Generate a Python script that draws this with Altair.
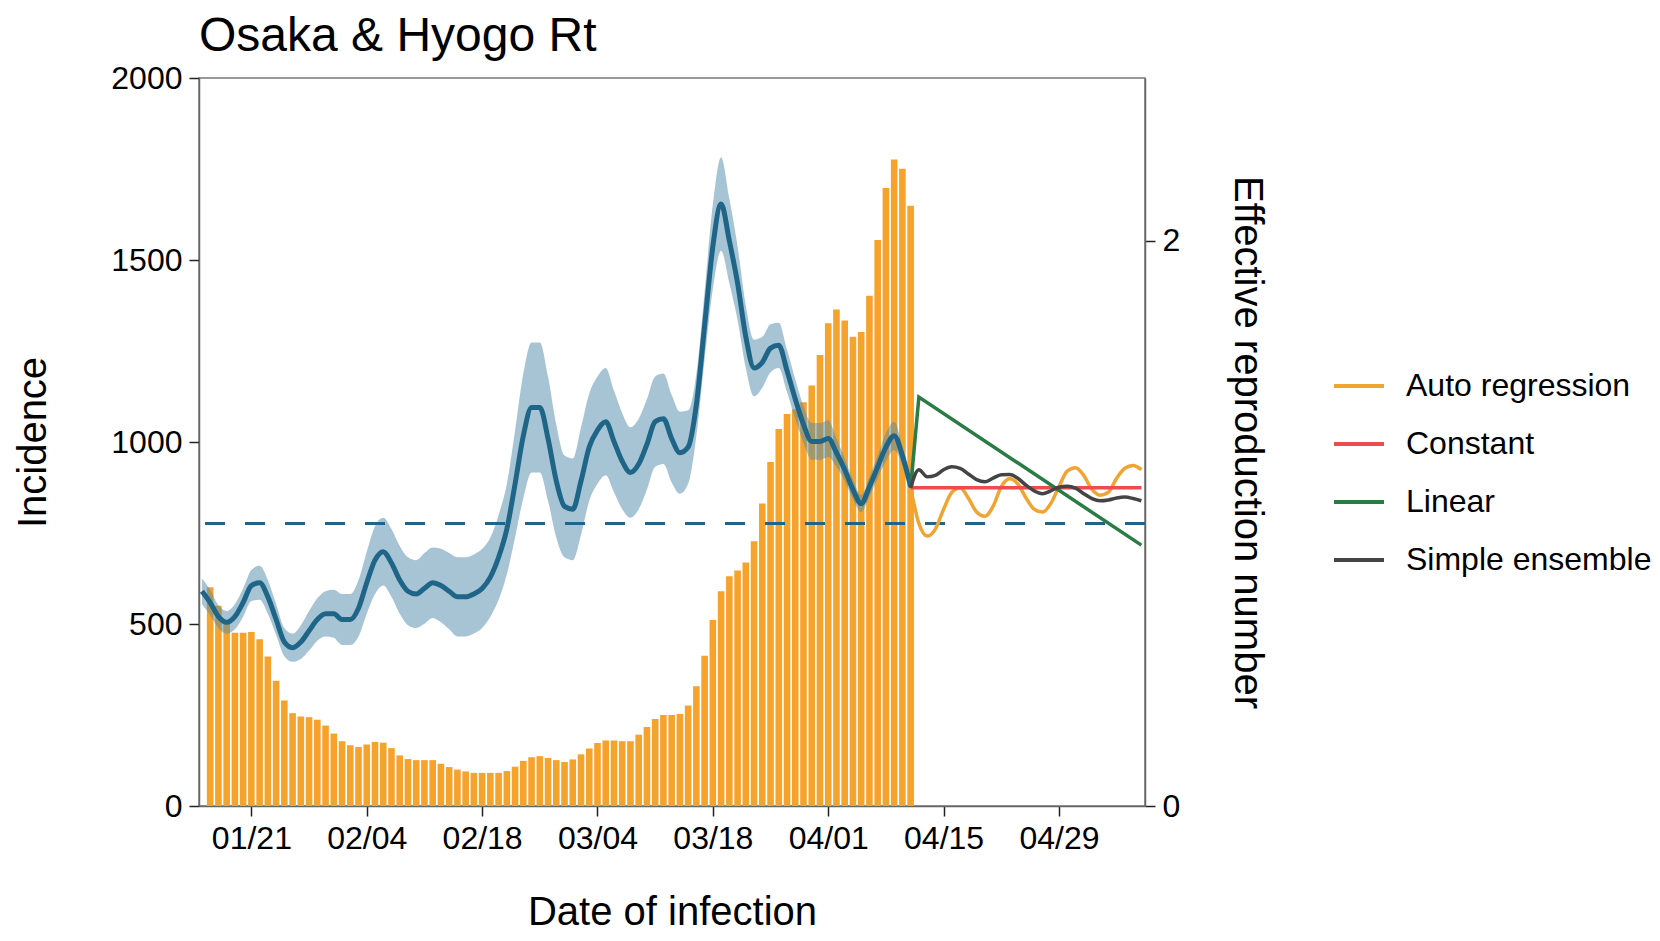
import altair as alt
import pandas as pd

FONT = "Liberation Sans"

# ---------------- data ----------------
chart_title = ["Osaka & Hyogo Rt"]

bar_start, bar_end = "2021-01-16", "2021-04-11"
incidence = [601, 550, 505, 476, 476, 478, 458, 411, 344, 290,
             255, 246, 244, 237, 221, 199, 178, 167, 162, 169,
             176, 174, 159, 139, 129, 126, 126, 126, 116, 107,
             100, 95, 91, 91, 91, 91, 96, 108, 124, 134,
             137, 132, 126, 121, 128, 142, 158, 173, 180, 180,
             178, 178, 196, 217, 239, 250, 250, 253, 276, 329,
             413, 511, 590, 631, 647, 669, 727, 831, 945, 1036,
             1077, 1090, 1109, 1155, 1239, 1326, 1364, 1334, 1289, 1302,
             1402, 1555, 1698, 1776, 1751, 1649]

rt_start, rt_end = "2021-01-15", "2021-04-11"
rt_median = [0.76, 0.72, 0.67, 0.65, 0.67, 0.72, 0.78, 0.79, 0.74, 0.66,
             0.58, 0.56, 0.58, 0.62, 0.66, 0.68, 0.68, 0.66, 0.66, 0.70,
             0.79, 0.87, 0.90, 0.86, 0.80, 0.76, 0.75, 0.77, 0.79, 0.78,
             0.76, 0.74, 0.74, 0.75, 0.77, 0.81, 0.88, 0.98, 1.14, 1.31,
             1.41, 1.41, 1.30, 1.15, 1.06, 1.05, 1.15, 1.27, 1.33, 1.36,
             1.29, 1.22, 1.18, 1.21, 1.28, 1.36, 1.37, 1.30, 1.25, 1.27,
             1.42, 1.70, 1.98, 2.13, 2.00, 1.85, 1.66, 1.55, 1.57, 1.62,
             1.63, 1.54, 1.44, 1.35, 1.29, 1.29, 1.30, 1.25, 1.19, 1.12,
             1.07, 1.13, 1.20, 1.27, 1.31, 1.24, 1.13]
rt_lower = [0.715, 0.675, 0.63, 0.61, 0.625, 0.67, 0.725, 0.73, 0.68, 0.605,
            0.53, 0.51, 0.52, 0.55, 0.585, 0.60, 0.595, 0.57, 0.57, 0.60,
            0.68, 0.75, 0.78, 0.74, 0.68, 0.64, 0.63, 0.645, 0.665, 0.65,
            0.625, 0.60, 0.60, 0.61, 0.63, 0.67, 0.73, 0.82, 0.95, 1.09,
            1.18, 1.18, 1.08, 0.95, 0.88, 0.87, 0.96, 1.08, 1.14, 1.17,
            1.11, 1.05, 1.02, 1.05, 1.12, 1.20, 1.21, 1.145, 1.105, 1.14,
            1.31, 1.58, 1.83, 1.965, 1.85, 1.72, 1.55, 1.45, 1.48, 1.535,
            1.55, 1.465, 1.37, 1.285, 1.225, 1.225, 1.235, 1.20, 1.15, 1.085,
            1.04, 1.095, 1.16, 1.22, 1.26, 1.205, 1.11]
rt_upper = [0.805, 0.765, 0.71, 0.69, 0.715, 0.77, 0.835, 0.85, 0.80, 0.715,
            0.63, 0.61, 0.64, 0.69, 0.735, 0.76, 0.765, 0.75, 0.75, 0.80,
            0.90, 0.99, 1.02, 0.98, 0.92, 0.88, 0.87, 0.895, 0.915, 0.91,
            0.895, 0.88, 0.88, 0.89, 0.91, 0.95, 1.03, 1.14, 1.33, 1.53,
            1.64, 1.64, 1.52, 1.35, 1.24, 1.23, 1.34, 1.46, 1.52, 1.55,
            1.47, 1.39, 1.34, 1.37, 1.44, 1.52, 1.53, 1.455, 1.395, 1.40,
            1.53, 1.82, 2.13, 2.295, 2.15, 1.98, 1.77, 1.65, 1.66, 1.705,
            1.71, 1.615, 1.51, 1.415, 1.355, 1.355, 1.365, 1.30, 1.23, 1.155,
            1.10, 1.165, 1.24, 1.32, 1.36, 1.275, 1.15]

fc_start, fc_end = "2021-04-11", "2021-05-09"
ar_values = [1.126, 1.00, 0.955, 0.98, 1.05, 1.11, 1.125, 1.09, 1.04, 1.025,
             1.06, 1.13, 1.158, 1.14, 1.09, 1.05, 1.04, 1.07, 1.13, 1.185,
             1.197, 1.17, 1.12, 1.10, 1.11, 1.16, 1.195, 1.205, 1.19]
ens_values = [1.126, 1.19, 1.165, 1.17, 1.19, 1.20, 1.195, 1.175, 1.155, 1.147,
              1.16, 1.172, 1.173, 1.16, 1.135, 1.115, 1.105, 1.115, 1.128, 1.131,
              1.125, 1.105, 1.088, 1.08, 1.083, 1.09, 1.093, 1.088, 1.08]
const_dates = ["2021-04-11", "2021-05-09"]
const_values = [1.126, 1.126]
lin_dates = ["2021-04-11", "2021-04-12", "2021-05-09"]
lin_values = [1.126, 1.447, 0.923]

methods = ["Auto regression", "Constant", "Linear", "Simple ensemble"]
method_colors = ["#F0A431", "#EE4B4E", "#2B7B45", "#444444"]

tick_md = [(1, 21), (2, 4), (2, 18), (3, 4), (3, 18), (4, 1), (4, 15), (4, 29)]
inc_ticks = [0, 500, 1000, 1500, 2000]
rt_ticks = [0, 2]
rt_threshold = [1.0]


def fmt(dates):
    return [pd.Timestamp(d).strftime("%Y-%m-%dT%H:%M:%S") for d in dates]


bars_df = pd.DataFrame({"date": fmt(pd.date_range(bar_start, bar_end, freq="D")),
                        "incidence": incidence})
rt_df = pd.DataFrame({"date": fmt(pd.date_range(rt_start, rt_end, freq="D")),
                      "median": rt_median, "lower": rt_lower, "upper": rt_upper})
fc_dates = fmt(pd.date_range(fc_start, fc_end, freq="D"))
ar_df = pd.DataFrame({"date": fc_dates, "value": ar_values, "method": methods[0]})
const_df = pd.DataFrame({"date": fmt(const_dates), "value": const_values, "method": methods[1]})
lin_df = pd.DataFrame({"date": fmt(lin_dates), "value": lin_values, "method": methods[2]})
ens_df = pd.DataFrame({"date": fc_dates, "value": ens_values, "method": methods[3]})
thr_df = pd.DataFrame({"rt": rt_threshold})
title_df = pd.DataFrame({"t": chart_title})

# ---------------- layout ----------------
W, H = 946, 728
PAD = {"left": 191, "top": 70, "right": 507, "bottom": 127}

x_scale = alt.Scale(domain=[alt.DateTime(year=2021, month=1, date=15, hours=6),
                            alt.DateTime(year=2021, month=5, date=8, hours=20)])
x_axis = alt.Axis(values=[alt.DateTime(year=2021, month=m, date=d) for m, d in tick_md],
                  format="%m/%d", title="Date of infection",
                  titleX=W / 2, titleY=118, titleBaseline="alphabetic", titleAlign="center",
                  labelFlush=False, labelOverlap=False)


def X():
    return alt.X("date:T", scale=x_scale, axis=x_axis)


inc_axis = alt.Axis(orient="left", values=inc_ticks, format="d", title="Incidence",
                    titleAngle=270, titleX=-154, titleY=H / 2, titleBaseline="alphabetic",
                    titleAlign="center", labelFlush=False, labelOverlap=False)
rt_scale = alt.Scale(domain=[0, 2.576], nice=False, zero=True)
rt_axis = alt.Axis(orient="right", values=rt_ticks, format="d",
                   title="Effective reproduction number",
                   titleAngle=90, titleX=89.5, titleY=H / 2, titleBaseline="alphabetic",
                   titleAlign="center", labelFlush=False, labelOverlap=False)

color_scale = alt.Scale(domain=methods, range=method_colors)
legend = alt.Legend(orient="none", legendX=1133, legendY=281, title=None,
                    symbolType="stroke", symbolSize=2500, symbolStrokeWidth=4,
                    labelFontSize=32, labelFont=FONT, labelColor="black", labelLimit=0,
                    labelOffset=20, rowPadding=15, padding=0)

bars = alt.Chart(bars_df).mark_bar(color="#F5A32B", width=6.6, clip=True).encode(
    x=X(),
    y=alt.Y("incidence:Q", scale=alt.Scale(domain=[0, 2000], nice=False), axis=inc_axis),
)

band = alt.Chart(rt_df).mark_area(color="#4F89AB", opacity=0.5, interpolate="monotone",
                                  clip=True).encode(
    x=X(), y=alt.Y("lower:Q", scale=rt_scale, axis=rt_axis), y2="upper:Q")

thr = alt.Chart(thr_df).mark_rule(color="#1F6587", strokeWidth=3, strokeDash=[20, 20]).encode(
    y=alt.Y("rt:Q", scale=rt_scale, axis=rt_axis))

rt_line = alt.Chart(rt_df).mark_line(color="#1F6587", strokeWidth=5, interpolate="monotone",
                                     clip=True).encode(
    x=X(), y=alt.Y("median:Q", scale=rt_scale, axis=rt_axis))


def fc_layer(df, interp):
    return alt.Chart(df).mark_line(strokeWidth=3.5, interpolate=interp, clip=True).encode(
        x=X(), y=alt.Y("value:Q", scale=rt_scale, axis=rt_axis),
        color=alt.Color("method:N", scale=color_scale, legend=legend))


title_text = alt.Chart(title_df).mark_text(
    align="left", baseline="alphabetic", fontSize=48, font=FONT, color="black"
).encode(x=alt.value(0), y=alt.value(-27), text="t:N")

rt_layers = alt.layer(band, thr, rt_line,
                      fc_layer(ar_df, "monotone"), fc_layer(const_df, "linear"),
                      fc_layer(lin_df, "linear"), fc_layer(ens_df, "monotone"))

chart = alt.layer(bars, rt_layers, title_text).resolve_scale(y="independent").properties(
    width=W, height=H,
    autosize=alt.AutoSizeParams(type="none"),
    padding=PAD,
).configure_axis(
    labelFont=FONT, labelFontSize=32, labelColor="black",
    titleFont=FONT, titleFontSize=40, titleFontWeight="normal", titleColor="black",
    domainColor="#666666", domainWidth=1.5, tickColor="#222222", tickWidth=1.5,
    tickSize=10, labelPadding=7, grid=False,
).configure_view(stroke="#777777", strokeWidth=1.5)

chart.save("out.html", embed_options={"renderer": "svg", "actions": False})
